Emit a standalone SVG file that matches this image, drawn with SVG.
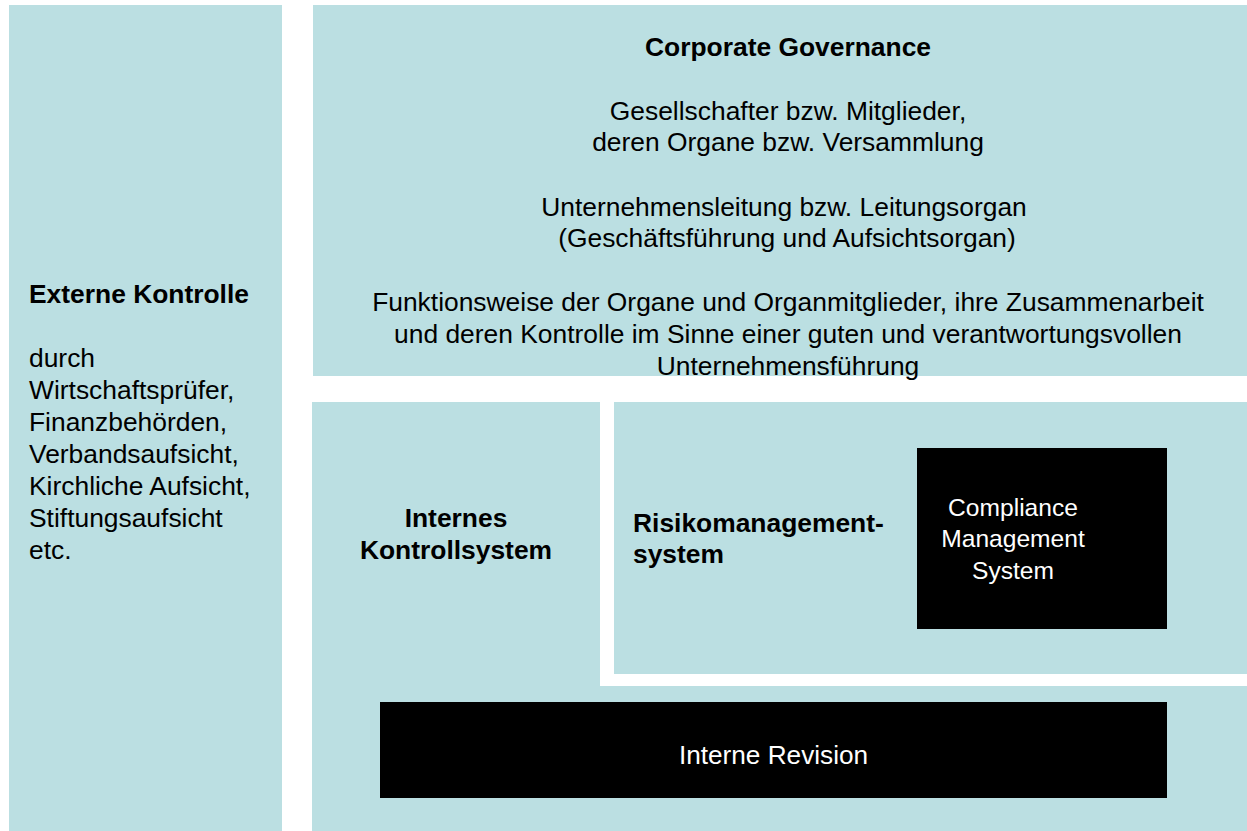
<svg xmlns="http://www.w3.org/2000/svg" width="1247" height="831" viewBox="0 0 1247 831">
  <style>
    .panel { fill: #BBDFE2; }
    .gap { fill: #FFFFFF; }
    .dark { fill: #000000; }
    text { font-family: "Liberation Sans", Arial, sans-serif; font-size: 26.4px; fill: #000000; }
    .b { font-weight: bold; }
    .c { text-anchor: middle; }
    .w { fill: #FFFFFF; }
  </style>
  <rect x="0" y="0" width="1247" height="831" fill="#FFFFFF"/>

  <!-- external control column -->
  <g id="externe-kontrolle">
    <rect class="panel" x="9" y="5" width="273" height="826"/>
    <text class="b" x="29" y="303">Externe Kontrolle</text>
    <text x="29" y="367">durch</text>
    <text x="29" y="399">Wirtschaftsprüfer,</text>
    <text x="29" y="431">Finanzbehörden,</text>
    <text x="29" y="463">Verbandsaufsicht,</text>
    <text x="29" y="495">Kirchliche Aufsicht,</text>
    <text x="29" y="527">Stiftungsaufsicht</text>
    <text x="29" y="559">etc.</text>
  </g>

  <!-- corporate governance block -->
  <g id="corporate-governance">
    <rect class="panel" x="313" y="5" width="934" height="371"/>
    <text class="b c" x="788" y="56">Corporate Governance</text>
    <text class="c" x="788" y="120">Gesellschafter bzw. Mitglieder,</text>
    <text class="c" x="788" y="151">deren Organe bzw. Versammlung</text>
    <text class="c" x="784" y="216">Unternehmensleitung bzw. Leitungsorgan</text>
    <text class="c" x="787" y="247">(Geschäftsführung und Aufsichtsorgan)</text>
    <text class="c" x="788" y="311">Funktionsweise der Organe und Organmitglieder, ihre Zusammenarbeit</text>
    <text class="c" x="788" y="343">und deren Kontrolle im Sinne einer guten und verantwortungsvollen</text>
    <text class="c" x="788" y="375">Unternehmensführung</text>
  </g>

  <!-- internal control system (L-shaped field) -->
  <g id="internes-kontrollsystem">
    <rect class="panel" x="312" y="402" width="935" height="429"/>
    <rect class="gap" x="600" y="402" width="647" height="284"/>
    <text class="b c" x="456" y="527">Internes</text>
    <text class="b c" x="456" y="559">Kontrollsystem</text>
  </g>

  <!-- risk management system -->
  <g id="risikomanagementsystem">
    <rect class="panel" x="614" y="402" width="633" height="272"/>
    <text class="b" x="633" y="532">Risikomanagement-</text>
    <text class="b" x="633" y="563">system</text>
  </g>

  <!-- compliance management system -->
  <g id="compliance-management-system">
    <rect class="dark" x="917" y="448" width="250" height="181"/>
    <text class="c w" x="1013" y="516" style="font-size:24.6px">Compliance</text>
    <text class="c w" x="1013" y="547" style="font-size:24.6px">Management</text>
    <text class="c w" x="1013" y="579" style="font-size:24.6px">System</text>
  </g>

  <!-- internal audit -->
  <g id="interne-revision">
    <rect class="dark" x="380" y="702" width="787" height="96"/>
    <text class="c w" x="773.5" y="764" style="font-size:26.2px">Interne Revision</text>
  </g>

  <g id="connectors"/>
</svg>
